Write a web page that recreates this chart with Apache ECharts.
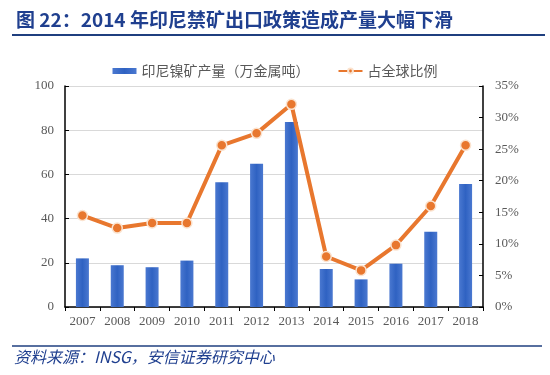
<!DOCTYPE html>
<html>
<head>
<meta charset="utf-8">
<script src="https://cdn.jsdelivr.net/npm/echarts@6/dist/echarts.min.js"></script>
<style>
  html, body { margin: 0; padding: 0; background: #fff; }
  #main { width: 550px; height: 375px; }
</style>
</head>
<body>
<div id="main"></div>
<script>
// 年份
const years = ['2007', '2008', '2009', '2010', '2011', '2012', '2013', '2014', '2015', '2016', '2017', '2018']
// 印尼镍矿产量（万金属吨）
const output = [22.0, 18.9, 18.0, 21.0, 56.4, 64.8, 83.7, 17.2, 12.5, 19.6, 34.1, 55.7]
// 占全球比例（%）
const share = [14.5, 12.5, 13.3, 13.3, 25.6, 27.5, 32.1, 8.0, 5.8, 9.8, 16.0, 25.6]

const serif = '"Liberation Serif", "DejaVu Serif", serif'
const cjk = '"Noto Sans CJK SC", sans-serif'
const axisText = { color: '#595959', fontFamily: serif, fontSize: 13 }

let myChart = echarts.init(document.getElementById('main'))
myChart.setOption({
  animation: false,
  title: {
    text: '图 22：2014 年印尼禁矿出口政策造成产量大幅下滑',
    left: 11,
    top: 5,
    textStyle: { color: '#1f3f8f', fontFamily: cjk, fontSize: 19, fontWeight: 'bold' }
  },
  graphic: [
    { type: 'line', shape: { x1: 12, y1: 35, x2: 545, y2: 35 }, style: { stroke: '#1f3f7f', lineWidth: 2 } },
    { type: 'line', shape: { x1: 12, y1: 346, x2: 542, y2: 346 }, style: { stroke: '#1f3f7f', lineWidth: 1.5 } },
    {
      type: 'text', left: 14, top: 349,
      style: { text: '资料来源：INSG，安信证券研究中心', fill: '#1f3f8f', font: 'italic 16px "Noto Sans CJK SC", sans-serif' }
    }
  ],
  legend: {
    top: 59,
    left: 'center',
    itemGap: 28,
    itemWidth: 24,
    itemHeight: 6,
    textStyle: { color: '#595959', fontFamily: cjk, fontSize: 14 },
    data: [
      { name: '印尼镍矿产量（万金属吨）', icon: 'rect' },
      { name: '占全球比例' }
    ]
  },
  grid: { left: 65, right: 67, top: 86, bottom: 68 },
  xAxis: {
    type: 'category',
    data: years,
    boundaryGap: true,
    axisLine: { lineStyle: { color: '#000', width: 1.5 } },
    axisTick: { show: true, length: 4, lineStyle: { color: '#000' } },
    axisLabel: Object.assign({ margin: 8 }, axisText)
  },
  yAxis: [
    {
      type: 'value',
      min: 0,
      max: 100,
      interval: 20,
      axisLine: { show: true, lineStyle: { color: '#000', width: 1.5 } },
      axisTick: { show: true, inside: true, length: 4, lineStyle: { color: '#000' } },
      axisLabel: Object.assign({ margin: 11 }, axisText),
      splitLine: { show: true, lineStyle: { color: '#d9d9d9' } }
    },
    {
      type: 'value',
      min: 0,
      max: 35,
      interval: 5,
      axisLine: { show: true, lineStyle: { color: '#000', width: 1.5 } },
      axisTick: { show: true, inside: true, length: 4, lineStyle: { color: '#000' } },
      axisLabel: Object.assign({ margin: 12, formatter: '{value}%' }, axisText),
      splitLine: { show: false }
    }
  ],
  series: [
    {
      name: '印尼镍矿产量（万金属吨）',
      type: 'bar',
      barWidth: 13,
      itemStyle: {
        color: new echarts.graphic.LinearGradient(0, 0, 1, 0, [
          { offset: 0, color: '#4a78d0' },
          { offset: 0.5, color: '#2f62c2' },
          { offset: 1, color: '#4a78d0' }
        ])
      },
      data: output
    },
    {
      name: '占全球比例',
      type: 'line',
      yAxisIndex: 1,
      symbol: 'circle',
      symbolSize: 10,
      lineStyle: { color: '#e8772e', width: 4 },
      itemStyle: { color: '#e8772e', borderColor: '#fbe3cf', borderWidth: 1.5 },
      data: share
    }
  ]
})
</script>
</body>
</html>
